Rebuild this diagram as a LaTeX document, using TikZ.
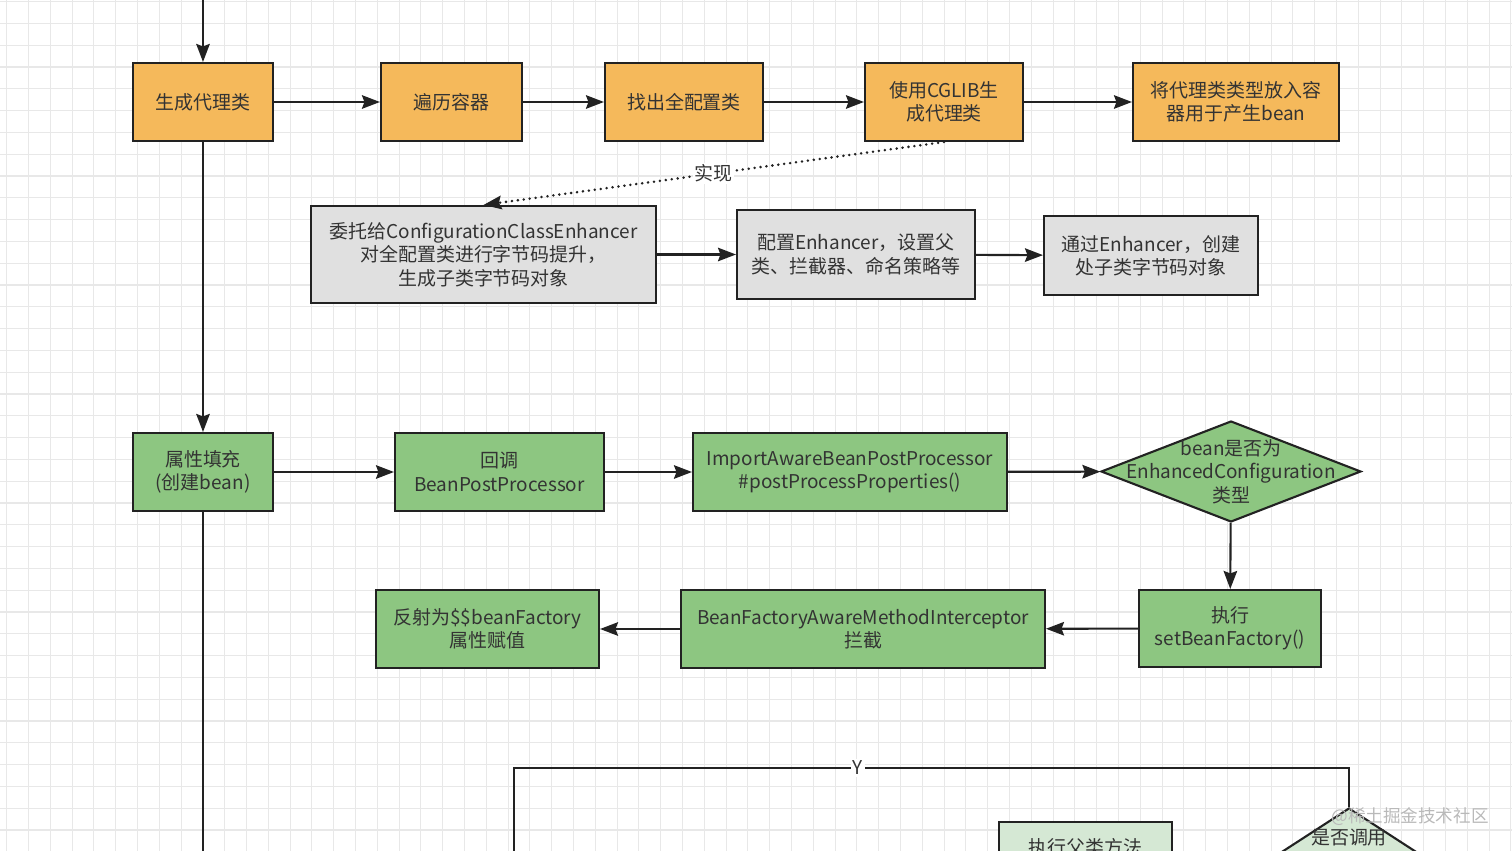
\documentclass[tikz,border=0pt]{standalone}
\usepackage{fontspec}
\setmainfont{Noto Sans CJK SC}
\usetikzlibrary{arrows.meta,shapes.geometric}
\definecolor{orangefill}{HTML}{F5B95B}
\definecolor{greenfill}{HTML}{8DC681}
\definecolor{grayfill}{HTML}{E0E0E0}
\definecolor{lightgreen}{HTML}{D5E8D4}
\definecolor{edgecol}{HTML}{222222}
\definecolor{txtcol}{HTML}{333333}
\definecolor{gridcol}{HTML}{E8E8E8}
\tikzset{
  boxfont/.style={font=\fontsize{10.8}{13.3}\selectfont, text=txtcol},
  box/.style={draw=edgecol, line width=1.2pt, rectangle, align=center, boxfont,
    minimum height=1.56cm, inner sep=2pt},
  orangebox/.style={box, fill=orangefill},
  graybox/.style={box, fill=grayfill},
  greenbox/.style={box, fill=greenfill},
  decbox/.style={draw=edgecol, line width=1.2pt, diamond, inner sep=0pt},
  flow/.style={draw=edgecol, line width=1.2pt, -{Stealth[length=0.36cm, width=0.27cm, inset=0.05cm]}},
  plain/.style={draw=edgecol, line width=1.2pt},
  lbl/.style={boxfont, fill=white, inner sep=1pt},
}
\begin{document}
\begin{tikzpicture}[x=0.02cm, y=-0.02cm]
\useasboundingbox (0,0) rectangle (1512,851);
\clip (0,0) rectangle (1512,851);
% background grid
\fill[white] (0,0) rectangle (1512,851);
\foreach \gx in {6.7,28.5,...,1512}
  \draw[gridcol, line width=0.6pt] (\gx,0) -- (\gx,851);
\foreach \gy in {1.6,23.4,...,851}
  \draw[gridcol, line width=0.6pt] (0,\gy) -- (1512,\gy);

% first row: proxy class
\coordinate (start) at (203,-20);
\node[orangebox, minimum width=2.8cm] (gen) at (203,102) {生成代理类};
\node[orangebox, minimum width=2.82cm] (scan) at (451.5,102) {遍历容器};
\node[orangebox, minimum width=3.16cm] (full) at (684,102) {找出全配置类};
\node[orangebox, minimum width=3.16cm] (cglib) at (944,102) {使用CGLIB生\\成代理类};
\node[orangebox, minimum width=4.12cm] (put) at (1236,102) {将代理类类型放入容\\器用于产生bean};
\draw[flow] (start) -- (gen);
\draw[flow] (gen) -- (scan);
\draw[flow] (scan) -- (full);
\draw[flow] (full) -- (cglib);
\draw[flow] (cglib) -- (put);

% second row: enhancer
\node[graybox, minimum width=6.9cm, minimum height=1.94cm] (deleg) at (483.5,254.5) {委托给ConfigurationClassEnhancer\\对全配置类进行字节码提升，\\生成子类字节码对象};
\node[graybox, minimum width=4.76cm, minimum height=1.78cm] (conf) at (856,254.5) {配置Enhancer，设置父\\类、拦截器、命名策略等};
\node[graybox, minimum width=4.28cm, minimum height=1.58cm] (create) at (1151,255.5) {通过Enhancer，创建\\处子类字节码对象};
\draw[flow, line width=1.6pt, line cap=round, dash pattern=on 0pt off 3.4pt] (cglib.south) -- node[lbl]{实现} (deleg.north);
\draw[flow] (deleg) -- (conf);
\draw[flow] (conf) -- (create);

% third row: populate bean
\node[greenbox, minimum width=2.8cm] (fill) at (203,472) {属性填充\\(创建bean)};
\node[greenbox, minimum width=4.18cm] (bpp) at (499.5,472) {回调\\BeanPostProcessor};
\node[greenbox, minimum width=6.28cm] (iabpp) at (850,472) {ImportAwareBeanPostProcessor\\\#postProcessProperties()};
\node[decbox, fill=greenfill, minimum width=5.2cm, minimum height=2.02cm,
  label={[boxfont, align=center]center:bean是否为\\EnhancedConfiguration\\类型}] (isenh) at (1231,471.5) {};
\draw[flow] (gen) -- (fill);
\draw[flow] (fill) -- (bpp);
\draw[flow] (bpp) -- (iabpp);
\draw[flow] (iabpp) -- (isenh);

% fourth row: set bean factory
\node[greenbox, minimum width=3.64cm, minimum height=1.54cm] (setbf) at (1230,628.5) {执行\\setBeanFactory()};
\node[greenbox, minimum width=7.28cm] (intc) at (863,629) {BeanFactoryAwareMethodInterceptor\\拦截};
\node[greenbox, minimum width=4.46cm] (refl) at (487.5,629) {反射为\$\$beanFactory\\属性赋值};
\draw[flow] (isenh) -- (setbf);
\draw[flow] (setbf) -- (intc);
\draw[flow] (intc) -- (refl);

% bottom: call check
\coordinate (fillend) at (203,900);
\draw[plain] (fill) -- (fillend);
\node[box, fill=lightgreen, minimum width=3.46cm, minimum height=1.0cm] (parent) at (1085.5,847) {执行父类方法};
\node[decbox, fill=lightgreen, minimum width=3.2cm, minimum height=2.08cm,
  label={[boxfont, yshift=0.44cm]center:是否调用}] (iscall) at (1349,860) {};
\coordinate (yright) at (1349,768);
\coordinate (yleft) at (514,768);
\coordinate (yend) at (514,900);
\draw[flow] (iscall.north) -- (yright) -- node[lbl, pos=0.588]{Y} (yleft) -- (yend);

% watermark
\node[font=\fontsize{10}{12}\selectfont, text=gray!55] (mark) at (1410,817) {@稀土掘金技术社区};
\end{tikzpicture}
\end{document}
